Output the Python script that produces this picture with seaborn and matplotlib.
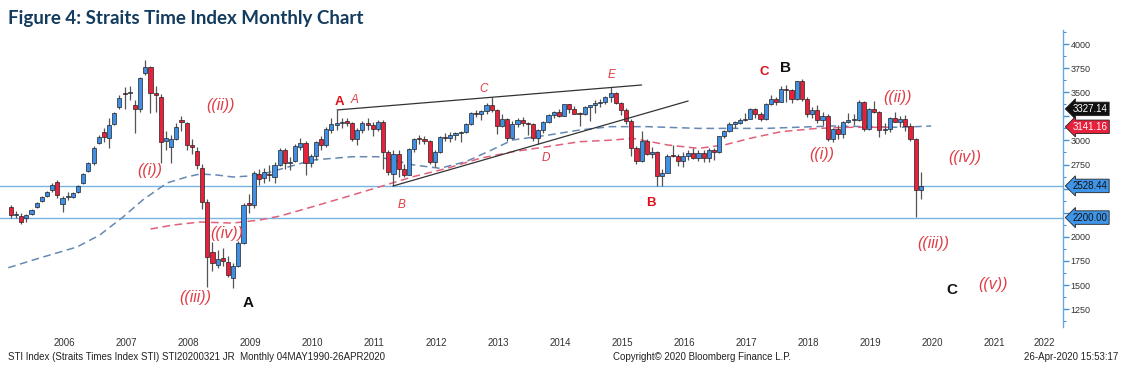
import numpy as np
import pandas as pd
import matplotlib
matplotlib.use("Agg")
import matplotlib.pyplot as plt
import matplotlib.transforms as mtransforms
from matplotlib.ticker import MultipleLocator
import seaborn as sns

# monthly STI candles, Aug 2005 .. Apr 2020
first_month = "2005-08"
opens = [
    2310, 2228, 2220, 2200, 2237,
    2309, 2372, 2424, 2486, 2569, 2341, 2410, 2413, 2465, 2559, 2683, 2766,
    2974, 3087, 3025, 3170, 3347, 3490, 3495, 3367, 3326, 3700, 3762, 3492,
    3450, 2990, 2935, 3015, 3205, 3180, 2953, 2890, 2714, 2362, 1843, 1708,
    1781, 1740, 1574, 1698, 1937, 2345, 2330, 2652, 2610, 2645, 2620, 2745,
    2900, 2765, 2790, 2935, 2975, 2765, 2835, 3010, 2950, 3110, 3160, 3180,
    3200, 3180, 3010, 3105, 3180, 3160, 3120, 3190, 2885, 2650, 2855, 2700,
    2646, 2906, 3011, 3010, 2992, 2772, 2878, 3036, 3021, 3060, 3072, 3089,
    3167, 3283, 3269, 3308, 3368, 3311, 3150, 3221, 3029, 3168, 3211, 3176,
    3167, 3027, 3110, 3189, 3265, 3296, 3255, 3374, 3327, 3277, 3274, 3351,
    3365, 3391, 3402, 3447, 3487, 3392, 3317, 3203, 2921, 2791, 2999, 2856,
    2883, 2630, 2667, 2841, 2838, 2791, 2841, 2869, 2821, 2869, 2813, 2905,
    2881, 3047, 3097, 3175, 3176, 3211, 3226, 3330, 3277, 3220, 3374, 3433,
    3403, 3533, 3518, 3428, 3613, 3428, 3269, 3320, 3213, 3257, 3019, 3118,
    3069, 3191, 3213, 3213, 3400, 3117, 3322, 3300, 3106, 3120, 3230, 3194,
    3223, 3153, 3011, 2481,
]
highs = [
    2335, 2270, 2245, 2240, 2290,
    2360, 2420, 2475, 2560, 2590, 2420, 2470, 2470, 2540, 2665, 2780, 2940,
    3060, 3130, 3233, 3300, 3470, 3550, 3560, 3420, 3660, 3834, 3770, 3560,
    3480, 3100, 3060, 3180, 3250, 3195, 3010, 2930, 2760, 2390, 1950, 1860,
    1884, 1800, 1730, 1960, 2350, 2440, 2680, 2700, 2710, 2750, 2780, 2920,
    2920, 2830, 2960, 3030, 2990, 2860, 2990, 3050, 3140, 3230, 3315, 3230,
    3230, 3190, 3130, 3200, 3230, 3190, 3210, 3210, 2900, 2900, 2900, 2760,
    2920, 3030, 3060, 3050, 3000, 2900, 3050, 3080, 3090, 3090, 3100, 3180,
    3290, 3320, 3320, 3390, 3450, 3330, 3270, 3230, 3200, 3230, 3240, 3190,
    3180, 3120, 3200, 3270, 3310, 3330, 3380, 3380, 3360, 3290, 3360, 3370,
    3420, 3430, 3460, 3550, 3500, 3400, 3340, 3220, 2940, 3100, 3020, 2930,
    2890, 2700, 2860, 2950, 2860, 2880, 2900, 2920, 2900, 2900, 2920, 2920,
    3050, 3110, 3190, 3200, 3230, 3280, 3340, 3340, 3290, 3390, 3470, 3450,
    3560, 3580, 3530, 3620, 3640, 3450, 3350, 3370, 3290, 3270, 3130, 3160,
    3200, 3280, 3270, 3415, 3410, 3340, 3410, 3310, 3180, 3240, 3290, 3250,
    3260, 3180, 3030, 2670,
]
lows = [
    2200, 2200, 2130, 2150, 2225,
    2300, 2360, 2410, 2470, 2400, 2258, 2380, 2400, 2450, 2550, 2670, 2750,
    2960, 2980, 2921, 3160, 3330, 3330, 3420, 3077, 3300, 3680, 3285, 3300,
    2766, 2900, 2770, 3000, 3100, 2900, 2860, 2700, 2290, 1480, 1650, 1680,
    1700, 1580, 1470, 1690, 1930, 2250, 2300, 2540, 2560, 2580, 2560, 2730,
    2700, 2690, 2780, 2900, 2640, 2720, 2800, 2900, 2930, 3080, 3110, 3130,
    3150, 2990, 2950, 3080, 3110, 3050, 3100, 2700, 2640, 2531, 2620, 2620,
    2640, 2880, 2960, 2960, 2760, 2720, 2870, 2990, 2980, 3000, 2980, 3080,
    3160, 3240, 3210, 3270, 3290, 3070, 3140, 2990, 3020, 3140, 3150, 3060,
    2990, 2960, 3080, 3180, 3230, 3240, 3250, 3280, 3270, 3150, 3260, 3200,
    3280, 3350, 3380, 3400, 3380, 3260, 3170, 2840, 2760, 2780, 2850, 2820,
    2530, 2530, 2660, 2830, 2740, 2720, 2800, 2810, 2790, 2780, 2780, 2800,
    2870, 3030, 3090, 3130, 3170, 3200, 3220, 3230, 3200, 3210, 3370, 3370,
    3400, 3400, 3390, 3420, 3410, 3240, 3230, 3180, 3160, 2990, 2980, 3020,
    3030, 3180, 3160, 3200, 3100, 3110, 3280, 3040, 3070, 3090, 3190, 3140,
    3100, 2990, 2208, 2390,
]
closes = [
    2228, 2232, 2150, 2222, 2278,
    2350, 2413, 2465, 2537, 2434, 2403, 2420, 2455, 2527, 2652, 2766, 2921,
    3036, 3036, 3160, 3285, 3440, 3478, 3505, 3326, 3647, 3762, 3492, 3471,
    2984, 3025, 3015, 3139, 3195, 2953, 2932, 2745, 2362, 1791, 1729, 1770,
    1752, 1605, 1698, 1937, 2330, 2335, 2662, 2600, 2673, 2640, 2745, 2900,
    2765, 2780, 2940, 2975, 2765, 2835, 2985, 2950, 3115, 3170, 3180, 3195,
    3180, 3010, 3105, 3180, 3160, 3120, 3190, 2885, 2675, 2855, 2700, 2646,
    2906, 3011, 3010, 2992, 2772, 2878, 3036, 3021, 3060, 3072, 3089, 3167,
    3283, 3269, 3308, 3368, 3311, 3150, 3221, 3029, 3168, 3211, 3176, 3167,
    3027, 3110, 3189, 3265, 3296, 3255, 3374, 3327, 3277, 3274, 3351, 3365,
    3391, 3402, 3447, 3487, 3392, 3317, 3203, 2921, 2791, 2999, 2856, 2883,
    2630, 2667, 2841, 2838, 2791, 2841, 2869, 2821, 2869, 2813, 2905, 2881,
    3047, 3097, 3175, 3176, 3211, 3226, 3330, 3277, 3220, 3374, 3433, 3403,
    3533, 3518, 3428, 3613, 3428, 3269, 3320, 3213, 3257, 3019, 3118, 3069,
    3191, 3213, 3213, 3400, 3117, 3322, 3300, 3106, 3120, 3230, 3194, 3223,
    3153, 3011, 2481, 2528,
]

# moving averages (month number counted from Aug 2005)
blue_ma_month = [-0.5, 5.6, 12.8, 17.2, 21.7, 25.5, 30.2, 34, 36.6, 39.8, 42.9, 46.2, 49.5,
                 52, 58.4, 66, 71, 78, 83, 88, 93, 97, 104, 110, 116, 123, 133, 146, 159,
                 172, 178]
blue_ma_value = [1680, 1781, 1895, 2019, 2206, 2382, 2559, 2621, 2652, 2642, 2621, 2631, 2662,
                 2700, 2797, 2831, 2831, 2745, 2711, 2780, 2901, 3004, 3056, 3108, 3143, 3143,
                 3125, 3125, 3150, 3136, 3150]
red_ma_month = [27, 31.4, 36.6, 42.9, 48.2, 52, 58.4, 65, 71.4, 77.8, 84.3, 90.7, 97.1, 103.7,
                110, 116.4, 120.3, 127, 133, 138, 143, 149, 156, 162, 170]
red_ma_value = [2081, 2123, 2154, 2143, 2175, 2215, 2313, 2417, 2520, 2624, 2710, 2814, 2883,
                2935, 2987, 3004, 3022, 2953, 2918, 2953, 3022, 3091, 3125, 3136, 3136]

# drawn trend lines (month, price)
upper_line_month = [63.1, 122]
upper_line_price = [3316, 3575]
lower_line_month = [73.9, 131]
lower_line_price = [2527, 3409]

level_lines = [2528.44, 2200.00]
tag_values = [3327.14, 3141.16, 2528.44, 2200.00]
tag_faces = ["#111111", "#e8203c", "#3f95e8", "#3f95e8"]
tag_texts = ["white", "white", "#111111", "#111111"]
# axis labels hidden under the price tags
covered_ticks = [3250, 2500, 2250]

years = list(range(2006, 2023))

# wave counts: text, month, price, kind
wave_labels = [
    ("((i))", 26.9, 2693, "wave"), ("((ii))", 40.6, 3367, "wave"),
    ("((iii))", 35.6, 1376, "wave"), ("((iv))", 41.8, 2040, "wave"),
    ("A", 45.8, 1314, "black"),
    ("A", 63.6, 3399, "red"), ("A", 66.5, 3419, "minor"),
    ("B", 75.6, 2330, "minor"), ("C", 91.5, 3533, "minor"),
    ("D", 103.5, 2818, "minor"), ("E", 116.2, 3679, "minor"),
    ("B", 123.8, 2351, "red"), ("C", 145.8, 3710, "red"), ("B", 149.9, 3751, "black"),
    ("((i))", 156.9, 2859, "wave"), ("((ii))", 171.4, 3450, "wave"),
    ("((iii))", 178.5, 1936, "wave"), ("((iv))", 184.5, 2828, "wave"),
    ("C", 182, 1449, "black"), ("((v))", 190, 1511, "wave"),
]

sns.set_theme(style="white")
plt.rcParams["font.family"] = ["Liberation Sans", "DejaVu Sans"]

df = pd.DataFrame({"open": opens, "high": highs, "low": lows, "close": closes})
df["date"] = pd.date_range(first_month, periods=len(df), freq="MS")
df["pos"] = np.arange(len(df))
df["up"] = df["close"] >= df["open"]

fig = plt.figure(figsize=(11.24, 3.84), dpi=100)
ax = fig.add_axes([0, 0.1484, 0.9457, 0.7734])

for lvl in level_lines:
    ax.axhline(lvl, color="#7ab4e2", lw=1, zorder=1)

sns.lineplot(x=blue_ma_month, y=blue_ma_value, ax=ax, color="#6589b2", lw=1.1,
             linestyle=(0, (5, 3)), legend=False, zorder=1)
sns.lineplot(x=red_ma_month, y=red_ma_value, ax=ax, color="#e2607a", lw=1.1,
             linestyle=(0, (5, 3)), legend=False, zorder=1)

ax.plot(upper_line_month, upper_line_price, color="#333333", lw=0.9, zorder=4)
ax.plot(lower_line_month, lower_line_price, color="#333333", lw=0.9, zorder=4)

# candles
ax.vlines(df["pos"], df["low"], df["high"], color="#555555", lw=0.9, zorder=2)
body_low = df[["open", "close"]].min(axis=1)
body_h = np.maximum((df["close"] - df["open"]).abs(), 12)
colors = np.where(df["up"], "#3f8fe6", "#e8203c")
ax.bar(df["pos"], body_h, bottom=body_low, width=0.8, color=colors,
       edgecolor="#222222", linewidth=0.5, zorder=3)

styles = {
    "wave": dict(color="#e03c46", fontsize=11.5, style="italic"),
    "minor": dict(color="#e03c46", fontsize=8.5, style="italic"),
    "red": dict(color="#e0101a", fontsize=9.5, fontweight="bold"),
    "black": dict(color="#111111", fontsize=11, fontweight="bold"),
}
for txt, m, p, kind in wave_labels:
    ax.text(m, p, txt, ha="center", va="center", zorder=5, **styles[kind])

ax.set_xlim(-2.1, 203.5)
ax.set_ylim(1065, 4145)

# axes styling
for side in ["left", "top", "bottom"]:
    ax.spines[side].set_visible(False)
ax.spines["right"].set_color("#6aa8e0")
ax.spines["right"].set_linewidth(1)
ax.yaxis.tick_right()
y_ticks = list(range(1250, 4001, 250))
ax.set_yticks(y_ticks)
ax.set_yticklabels(["" if t in covered_ticks else str(t) for t in y_ticks])
ax.yaxis.set_minor_locator(MultipleLocator(125))
ax.tick_params(axis="y", which="major", direction="out", length=4, width=1,
               color="#4a90d9", labelcolor="#333333", labelsize=6.5, pad=1.5)
ax.tick_params(axis="y", which="minor", direction="out", length=2, width=0.8,
               color="#4a90d9")
year_pos = [(y - 2005) * 12 - 7 + 5.3 for y in years]
year_pos[-1] -= 2.5  # last label sits tucked in against the axis
ax.set_xticks(year_pos)
ax.set_xticklabels([str(y) for y in years])
ax.tick_params(axis="x", length=0, labelsize=7, labelcolor="#333333", pad=8)
ax.set_xlabel("")
ax.set_ylabel("")
ax.grid(False)

# price tags on the axis
trans = mtransforms.blended_transform_factory(ax.transAxes, ax.transData)
for val, fc, tc in zip(tag_values, tag_faces, tag_texts):
    ax.text(1.009, val, f"{val:.2f}", transform=trans, ha="left", va="center",
            fontsize=7, color=tc, clip_on=False, zorder=6,
            bbox=dict(boxstyle="larrow,pad=0.18", fc=fc, ec="#222222", lw=0.6))

fig.text(0.007, 0.953, "Figure 4: Straits Time Index Monthly Chart", fontsize=13.5,
         fontweight="bold", color="#143c5e", family="Lato", va="center")
fig.text(0.007, 0.07, "STI Index (Straits Times Index STI) STI20200321 JR  Monthly 04MAY1990-26APR2020",
         fontsize=7, color="#222222", va="center")
fig.text(0.545, 0.07, "Copyright\u00a9 2020 Bloomberg Finance L.P.", fontsize=7,
         color="#222222", va="center")
fig.text(0.995, 0.07, "26-Apr-2020 15:53:17", fontsize=7, color="#222222",
         va="center", ha="right")

fig.savefig("out.png", dpi=100)
